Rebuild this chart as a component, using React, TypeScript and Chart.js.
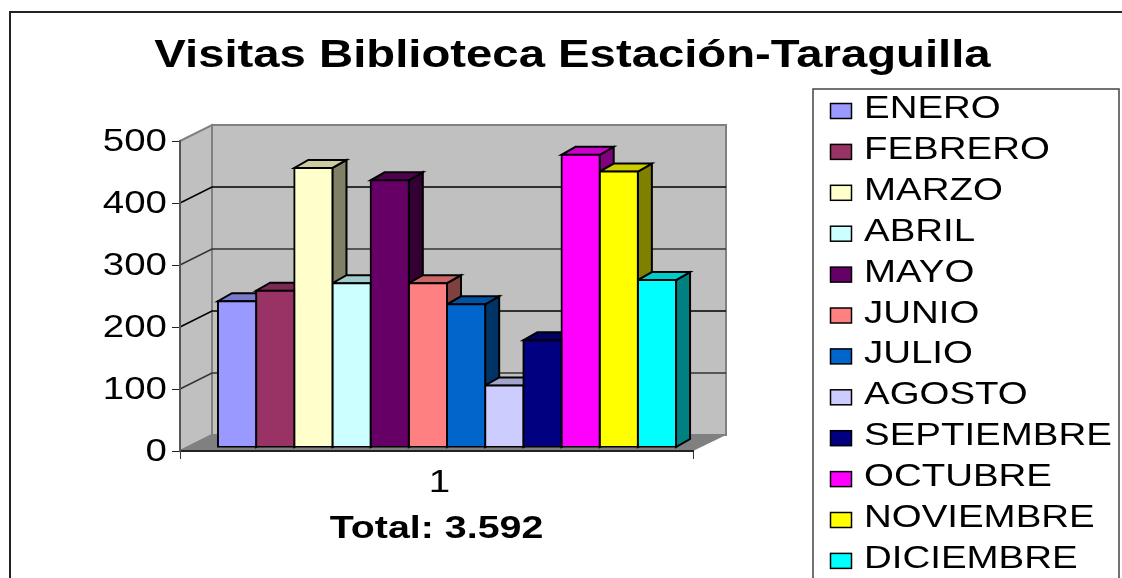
import React, { useEffect, useRef } from "react";
import { Chart, registerables } from "chart.js";

Chart.register(...registerables);

const categories = ["1"];
const months = ["ENERO", "FEBRERO", "MARZO", "ABRIL", "MAYO", "JUNIO", "JULIO", "AGOSTO", "SEPTIEMBRE", "OCTUBRE", "NOVIEMBRE", "DICIEMBRE"];
const visits = [236, 253, 451, 265, 431, 265, 231, 100, 173, 472, 445, 270];
const colors = ["#9999FF", "#993366", "#FFFFCC", "#CCFFFF", "#660066", "#FF8080", "#0066CC", "#CCCCFF", "#000080", "#FF00FF", "#FFFF00", "#00FFFF"];
const titleText = "Visitas Biblioteca Estación-Taraguilla";
const totalText = "Total: 3.592";

const FONT = "'Liberation Sans', Arial, sans-serif";
const DEPTH_X = 32;
const DEPTH_Y = 16;
const BAR_SHIFT_X = 10.5;
const BAR_SHIFT_Y = -3.5;
const SIDE_X = 14;
const SIDE_Y = 8;

function shade(hex: string, k: number) {
  const n = parseInt(hex.slice(1), 16);
  const c = [(n >> 16) & 255, (n >> 8) & 255, n & 255].map((v) => Math.round(v * k));
  return `rgb(${c[0]},${c[1]},${c[2]})`;
}

function poly(ctx: CanvasRenderingContext2D, pts: number[][], fill: string | null, stroke: string | null, lw = 1) {
  ctx.beginPath();
  pts.forEach((p, i) => (i ? ctx.lineTo(p[0], p[1]) : ctx.moveTo(p[0], p[1])));
  ctx.closePath();
  if (fill) {
    ctx.fillStyle = fill;
    ctx.fill();
  }
  if (stroke) {
    ctx.strokeStyle = stroke;
    ctx.lineWidth = lw;
    ctx.lineJoin = "miter";
    ctx.stroke();
  }
}

const scene3d = {
  id: "scene3d",
  afterLayout(chart: any) {
    chart.titleBlock.left = 0;
    chart.titleBlock.right = 1145;
  },
  beforeDraw(chart: any) {
    const ctx: CanvasRenderingContext2D = chart.ctx;
    const { left, right, top, bottom } = chart.chartArea;
    const y = chart.scales.y;
    ctx.save();
    ctx.fillStyle = "#fff";
    ctx.fillRect(0, 0, chart.width, chart.height);
    ctx.strokeStyle = "#222";
    ctx.lineWidth = 2;
    ctx.beginPath();
    ctx.moveTo(10, 578);
    ctx.lineTo(10, 12);
    ctx.lineTo(1122, 12);
    ctx.stroke();
    const backL = left + DEPTH_X;
    const backR = right + DEPTH_X + 1;
    const backT = top - DEPTH_Y;
    const backB = bottom - DEPTH_Y;
    poly(ctx, [[backL, backT], [backR, backT], [backR, backB], [backL, backB]], "#C0C0C0", "#808080", 2);
    poly(ctx, [[left, top], [backL, backT], [backL, backB], [left, bottom]], "#C0C0C0", "#808080", 2);
    poly(ctx, [[left, bottom], [right, bottom], [backR, backB], [backL, backB]], "#808080", null);
    ctx.lineWidth = 1.5;
    y.ticks.forEach((t: any) => {
      if (t.value === 0 || t.value === 500) return;
      const py = y.getPixelForValue(t.value);
      ctx.strokeStyle = t.value === 400 || t.value === 200 ? "#000" : "#333";
      ctx.beginPath();
      ctx.moveTo(left, py);
      ctx.lineTo(backL, py - DEPTH_Y);
      ctx.lineTo(backR, py - DEPTH_Y);
      ctx.stroke();
    });
    ctx.restore();
  },
  beforeDatasetsDraw(chart: any) {
    const ctx: CanvasRenderingContext2D = chart.ctx;
    ctx.save();
    ctx.translate(BAR_SHIFT_X, BAR_SHIFT_Y);
    chart.data.datasets.forEach((ds: any, i: number) => {
      const bar = chart.getDatasetMeta(i).data[0];
      if (!bar) return;
      const l = bar.x - bar.width / 2;
      const r = bar.x + bar.width / 2;
      const t = bar.y;
      const b = bar.base;
      poly(ctx, [[r, t], [r + SIDE_X, t - SIDE_Y], [r + SIDE_X, b - SIDE_Y], [r, b]], shade(ds.backgroundColor, 0.5), "#000", 2);
      poly(ctx, [[l, t], [r, t], [r + SIDE_X, t - SIDE_Y], [l + SIDE_X, t - SIDE_Y]], shade(ds.backgroundColor, 0.8), "#000", 2);
    });
  },
  afterDatasetsDraw(chart: any) {
    chart.ctx.restore();
  },
  afterDraw(chart: any) {
    const ctx: CanvasRenderingContext2D = chart.ctx;
    ctx.save();
    ctx.strokeStyle = "#444";
    ctx.lineWidth = 1.5;
    ctx.beginPath();
    ctx.moveTo(813, 578);
    ctx.lineTo(813, 89);
    ctx.lineTo(1119, 89);
    ctx.lineTo(1119, 578);
    ctx.stroke();
    chart.data.datasets.forEach((ds: any, i: number) => {
      const cy = 108 + i * 40.9;
      ctx.fillStyle = ds.backgroundColor;
      ctx.fillRect(830.5, cy - 4.5, 21, 15);
      ctx.strokeStyle = "#000";
      ctx.lineWidth = 1.5;
      ctx.strokeRect(830.5, cy - 4.5, 21, 15);
      ctx.fillStyle = "#000";
      ctx.font = `31px ${FONT}`;
      ctx.textAlign = "left";
      ctx.textBaseline = "middle";
      ctx.fillText(ds.label, 864, cy);
    });
    ctx.restore();
  },
};

function stretchFor(text: string, font: string) {
  if (text === totalText) return 1.27;
  if (font.includes("bold")) return 1.244;
  return 1.24;
}

export default function App() {
  const ref = useRef<HTMLCanvasElement>(null);
  useEffect(() => {
    document.body.style.margin = "0";
    const canvas = ref.current!;
    const ctx = canvas.getContext("2d")! as any;
    const baseFill = ctx.fillText;
    ctx.fillText = function (text: string, x: number, y: number, maxWidth?: number) {
      const bold = ctx.font.includes("bold");
      const sx = stretchFor(String(text), ctx.font);
      const dy = !bold && ctx.textBaseline === "middle" ? 1.5 : 0;
      ctx.save();
      ctx.translate(x, y + dy);
      ctx.scale(sx, 1);
      if (maxWidth === undefined) baseFill.call(ctx, text, 0, 0);
      else baseFill.call(ctx, text, 0, 0, maxWidth);
      ctx.restore();
    };
    const chart = new Chart(canvas, {
      type: "bar",
      data: {
        labels: categories,
        datasets: months.map((m, i) => ({
          label: m,
          data: [visits[i]],
          backgroundColor: colors[i],
          borderColor: "#000",
          borderWidth: 2,
          borderSkipped: false,
          inflateAmount: 1,
          categoryPercentage: 0.893,
          barPercentage: 1,
        })),
      },
      options: {
        responsive: false,
        animation: false,
        devicePixelRatio: 1,
        layout: { padding: { left: 0, right: 429, top: 0, bottom: 0 } },
        plugins: {
          legend: { display: false },
          tooltip: { enabled: false },
          title: {
            display: true,
            text: titleText,
            color: "#000",
            font: { family: FONT, size: 38, weight: "bold", lineHeight: 1.2 },
            padding: { top: 34, bottom: 61.4 },
          },
        },
        scales: {
          x: {
            afterFit: (s: any) => {
              s.height = 127;
            },
            grid: { display: true, drawOnChartArea: false, drawTicks: true, tickLength: 8, color: "#333" },
            border: { display: true, color: "#222", width: 2 },
            ticks: { color: "#000", padding: 4, labelOffset: 3, font: { family: FONT, size: 31 }, maxRotation: 0 },
            title: {
              display: true,
              text: totalText,
              color: "#000",
              font: { family: FONT, size: 31, weight: "bold", lineHeight: 1.2 },
              padding: { top: 0, bottom: 30.4 },
            },
          },
          y: {
            min: 0,
            max: 500,
            afterFit: (s: any) => {
              s.width = 180;
            },
            grid: { display: true, drawOnChartArea: false, drawTicks: true, tickLength: 8, color: "#222" },
            border: { display: true, color: "#555", width: 2 },
            ticks: { stepSize: 100, color: "#000", padding: 5, font: { family: FONT, size: 31 } },
          },
        },
      },
      plugins: [scene3d],
    } as any);
    return () => chart.destroy();
  }, []);
  return <canvas ref={ref} width={1122} height={578} style={{ display: "block" }} />;
}
